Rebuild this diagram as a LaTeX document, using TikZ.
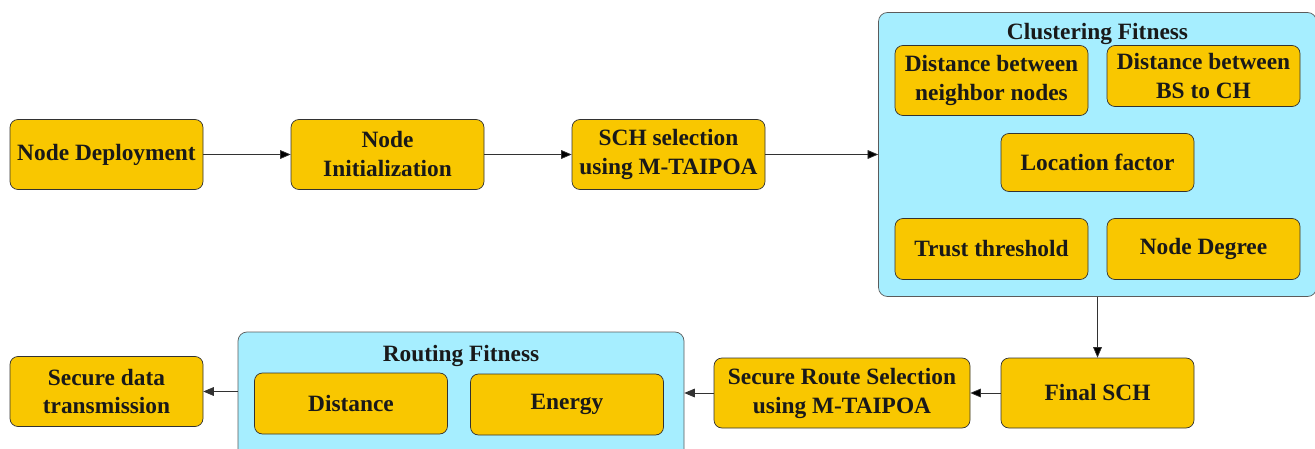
\documentclass[tikz,border=0pt]{standalone}
\usepackage{fontspec}
\setmainfont{Liberation Serif}
\usepackage{tikz}
\usetikzlibrary{positioning}
\usetikzlibrary{arrows.meta}

\definecolor{boxyellow}{RGB}{249,199,0}
\definecolor{fitcyan}{RGB}{166,238,255}
\definecolor{edgegray}{RGB}{50,50,50}

\begin{document}
\begin{tikzpicture}[>={Triangle[length=6pt, width=5pt]}, thin,                            % Plain filled tips
                        node distance = 2cm and 3cm, on grid,                                    % Node placement settings
                        font = \fontsize{13.3}{16.5}\selectfont\bfseries,
                        proc/.style = {draw=edgegray, fill=boxyellow, rounded corners=0.16cm,
                                       minimum width=3.86cm, minimum height=1.4cm, align=center,
                                       text=black!90},                                           % Yellow step boxes
                        fitbox/.style = {draw=edgegray!80, fill=fitcyan, rounded corners=0.18cm}, % Cyan group boxes
                        grouptitle/.style = {inner sep=0pt, text=black!90}]
        \path[use as bounding box, clip] (0,0) rectangle (26.3,-8.98);
        % top row
        \node[proc] (dep) at (2.13,-3.09) {Node Deployment};
        \node[proc] (init) [right =5.62cm of dep] {Node\\Initialization};
        \node[proc] (sch) [right =5.62cm of init] {SCH selection\\using M-TAIPOA};
        %group:clustering
        \node[fitbox, minimum width=8.76cm, minimum height=5.68cm] (clus) [right =8.58cm of sch] {};
        \node[grouptitle] (clustitle) [below =0.22cm of clus.north] {Clustering Fitness};
        \node[proc] (nbr) [above left =1.48cm and 2.12cm of clus] {Distance between\\neighbor nodes};
        \node[proc, minimum height=1.22cm] (bsch) [above right =1.57cm and 2.12cm of clus] {Distance between\\BS to CH};
        \node[proc, minimum height=1.16cm] (loc) [below =0.16cm of clus] {Location factor};
        \node[proc, minimum height=1.22cm] (trust) [below left =1.89cm and 2.12cm of clus] {Trust threshold};
        \node[proc, minimum height=1.22cm] (degree) [below right =1.89cm and 2.12cm of clus] {Node Degree};
        % bottom row
        \node[proc] (fin) [below =4.77cm of clus] {Final SCH};
        \node[proc, minimum width=5.12cm] (route) [left =5.11cm of fin] {Secure Route Selection\\using M-TAIPOA};
        %group:routing
        \node[fitbox, minimum width=8.92cm, minimum height=2.54cm] (rfit) [left =7.62cm of route, yshift=-0.05cm] {};
        \node[grouptitle] (rtitle) [below =0.26cm of rfit.north] {Routing Fitness};
        \node[proc, minimum height=1.22cm] (dist) [below left =0.16cm and 2.2cm of rfit] {Distance};
        \node[proc, minimum height=1.22cm] (energy) [below right =0.18cm and 2.12cm of rfit] {Energy};
        \node[proc] (sdt) [below =4.74cm of dep] {Secure data\\transmission};
        %edge:flow
        \path[->, draw=edgegray]
            (dep) edge (init)
            (init) edge (sch)
            (sch) edge (clus)
            (clus) edge (fin)
            (fin) edge (route);
        \draw[->, edgegray] (route.west) -- (route.west -| rfit.east);
        \draw[->, edgegray] (rfit.west |- sdt) -- (sdt);
    \end{tikzpicture}
\end{document}
